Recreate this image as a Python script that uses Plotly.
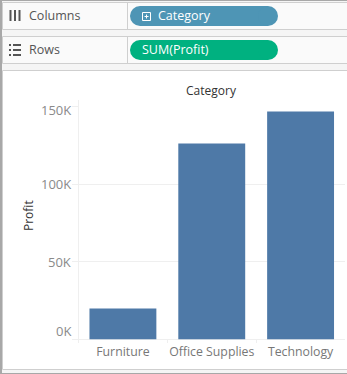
import plotly.graph_objects as go

categories = ["Furniture", "Office Supplies", "Technology"]
profit = [20000, 126200, 146800]
tick_vals = [0, 50000, 100000, 150000]
tick_text = ["0K", "50K", "100K", "150K"]
tick_nudge = [9, 0, 0, -4]

W, H = 347, 374
def px(x): return x / W
def py(y): return 1 - y / H

L, R, T, B = 78.5, 345, 106.5, 339.5
GRID = "#efefef"; BORDER = "#cfcfcf"; TXT = "#555555"
FONT = "Open Sans, Noto Sans, sans-serif"

fig = go.Figure(go.Bar(x=categories, y=profit, marker=dict(color="#4e79a7", line_width=0), width=0.753, hoverinfo="skip"))

def rect(x0, y0, x1, y1, fill=None, line=None, layer="below"):
    return dict(type="rect", xref="paper", yref="paper", x0=px(x0), x1=px(x1), y0=py(y0), y1=py(y1),
                fillcolor=fill or "rgba(0,0,0,0)", line=dict(color=line, width=1) if line else dict(width=0), layer=layer)
def seg(x0, y0, x1, y1, color=BORDER):
    return dict(type="line", xref="paper", yref="paper", x0=px(x0), x1=px(x1), y0=py(y0), y1=py(y1), line=dict(color=color, width=1), layer="below")
def pill(x0, y0, x1, y1, fill):
    r = (y1 - y0) / 2
    return [rect(x0 + r, y0, x1 - r, y1, fill=fill),
            dict(type="circle", xref="paper", yref="paper", x0=px(x0), x1=px(x0 + 2 * r), y0=py(y0), y1=py(y1), fillcolor=fill, line_width=0, layer="below"),
            dict(type="circle", xref="paper", yref="paper", x0=px(x1 - 2 * r), x1=px(x1), y0=py(y0), y1=py(y1), fillcolor=fill, line_width=0, layer="below")]
def text(x, y, s, size=12, color=TXT, anchor="left", angle=0):
    return dict(xref="paper", yref="paper", x=px(x), y=py(y), text=s, showarrow=False, xanchor=anchor, yanchor="middle",
                font=dict(size=size, color=color, family=FONT), textangle=angle)

shapes = [
    rect(0, 0, 347, 374, fill="#f5f5f5"),
    rect(0, 0, 2, 374, fill="#a8a8a8"),
    rect(0, 0, 347, 1, fill="#a8a8a8"),
    rect(0, 373, 347, 374, fill="#a8a8a8"),
    rect(2.5, 2.5, 348, 29.5, fill="#fafafa", line=BORDER),
    rect(2.5, 36.5, 348, 63.5, fill="#fafafa", line=BORDER),
    seg(127.5, 2.5, 127.5, 29.5), seg(127.5, 36.5, 127.5, 63.5),
    rect(2.5, 70.5, 348, 369.5, fill="#ffffff", line=BORDER),
    seg(78.5, 100, 78.5, 343, GRID),
    seg(167.5, 339.5, 167.5, 343, GRID), seg(256.5, 339.5, 256.5, 343, GRID),
    seg(73, 339.5, 345, 339.5, GRID),
    *pill(130, 6, 278, 26, "#4e95b5"),
    *pill(130, 40, 278, 60, "#00b180"),
    rect(142.5, 12.5, 150.5, 20.5, line="#ffffff"),
    seg(144.5, 16.5, 148.5, 16.5, "#ffffff"), seg(146.5, 14.5, 146.5, 18.5, "#ffffff"),
]
for x in (10.5, 15, 19.5):
    shapes.append(dict(type="line", xref="paper", yref="paper", x0=px(x), x1=px(x), y0=py(10), y1=py(21), line=dict(color="#555555", width=2)))
for y in (45, 50, 55):
    shapes.append(dict(type="line", xref="paper", yref="paper", x0=px(9), x1=px(11), y0=py(y), y1=py(y), line=dict(color="#555555", width=2)))
    shapes.append(dict(type="line", xref="paper", yref="paper", x0=px(13), x1=px(21), y0=py(y), y1=py(y), line=dict(color="#555555", width=2)))

annotations = [
    text(27, 16, "Columns", 12.5), text(27, 50, "Rows", 12.5),
    text(156, 16, "Category", 12.5, "#ffffff"), text(140, 50, "SUM(Profit)", 12.5, "#ffffff"),
    text(212, 91, "Category", 12, "#333333", "center"),
    text(28, 216, "Profit", 12, "#333333", "center", -90),
]
for v, s, n in zip(tick_vals, tick_text, tick_nudge):
    annotations.append(dict(xref="paper", yref="y", x=px(72), y=v, yshift=n, text=s, showarrow=False,
                            xanchor="right", yanchor="middle", xshift=1,
                            font=dict(size=13, color="#8a8a8a", family=FONT)))

fig.update_layout(
    width=W, height=H, autosize=False, margin=dict(l=0, r=0, t=0, b=0),
    paper_bgcolor="#ffffff", plot_bgcolor="rgba(0,0,0,0)", showlegend=False, bargap=0.25,
    shapes=shapes, annotations=annotations,
    font=dict(family=FONT, color="#777777", size=12),
    xaxis=dict(domain=[px(L), px(R)], anchor="y", range=[-0.5, 2.5], showgrid=False, zeroline=False, showline=False, automargin=False,
               ticks="outside", ticklen=1, tickcolor="rgba(0,0,0,0)", tickfont=dict(size=12.3, color="#777777"), fixedrange=True),
    yaxis=dict(domain=[py(B), py(T)], anchor="x", range=[0, 150000], tickvals=tick_vals, ticktext=[""] * len(tick_vals), automargin=False,
               showgrid=True, gridcolor=GRID, gridwidth=1, zeroline=False, showline=False,
               ticks="outside", ticklen=6, tickcolor=GRID, fixedrange=True),
)
fig.write_html("out.html", config=dict(displayModeBar=False),
               post_script="document.documentElement.style.overflow='hidden';document.body.style.margin='0';")
